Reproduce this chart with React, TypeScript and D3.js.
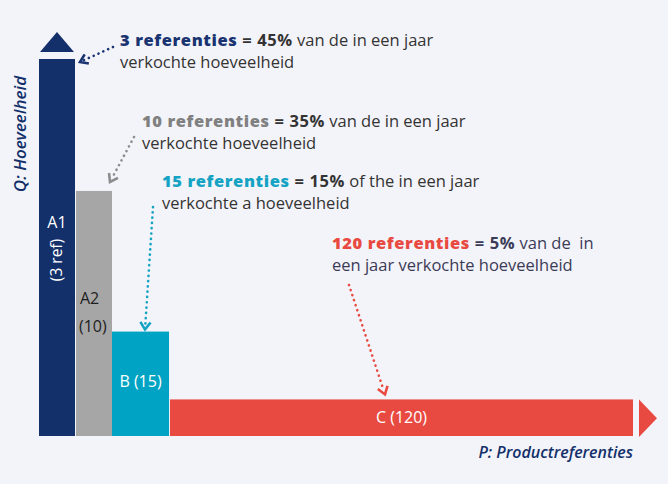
import React from "react";
import * as d3 from "d3";

const W = 668;
const H = 484;

// Data (illustrative ABC / Pareto chart)
const categories = ["A1", "A2", "B", "C"];
const refCounts = [3, 10, 15, 120];
const shares = [45, 35, 15, 5];
// bar heights in chart units (0-100) as drawn
const barHeights = [100, 65, 27.7, 9.7];
// bar spans along the x-axis in chart units (0-100) as drawn
const barStarts = [0, 6.23, 12.29, 22.05];
const barEnds = [6.06, 12.29, 21.89, 100];
const barLabels = [["A1", "(3 ref)"], ["A2", "(10)"], ["B (15)"], ["C (120)"]];
const noteLine1Rest = [" van de in een jaar", " van de in een jaar", " of the in een jaar", " van de  in"];
const noteLine2 = ["verkochte hoeveelheid", "verkochte hoeveelheid", "verkochte a hoeveelheid", "een jaar verkochte hoeveelheid"];
const yAxisLabel = "Q: Hoeveelheid";
const xAxisLabel = "P: Productreferenties";

const colors = ["#13306b", "#a6a6a6", "#00a3c3", "#e84a41"];
const noteColors = ["#1a3371", "#808080", "#15a3c4", "#e84a41"];
const textDark = ["#333333", "#333333", "#333333", "#3b3b58"];

const FONT = "'Open Sans', 'Noto Sans', sans-serif";

function DottedArrow({ x1, y1, x2, y2, color }: { x1: number; y1: number; x2: number; y2: number; color: string }) {
  const ang = Math.atan2(y2 - y1, x2 - x1);
  const len = 9;
  const spread = 0.6;
  const a1 = ang + Math.PI - spread;
  const a2 = ang + Math.PI + spread;
  const p1 = [x2 + len * Math.cos(a1), y2 + len * Math.sin(a1)];
  const p2 = [x2 + len * Math.cos(a2), y2 + len * Math.sin(a2)];
  const lx = x2 - 4 * Math.cos(ang);
  const ly = y2 - 4 * Math.sin(ang);
  return (
    <g>
      <line x1={x1} y1={y1} x2={lx} y2={ly} stroke={color} strokeWidth={2.6} strokeLinecap="round" strokeDasharray="0.1 5.2" />
      <path d={`M${p1[0]},${p1[1]}L${x2},${y2}L${p2[0]},${p2[1]}`} fill="none" stroke={color} strokeWidth={2.6} strokeLinejoin="miter" />
    </g>
  );
}

export default function App() {
  const x = d3.scaleLinear().domain([0, 100]).range([39, 633]);
  const y = d3.scaleLinear().domain([0, 100]).range([436, 59]);

  const bars = categories.map((c, i) => ({
    c,
    x0: x(barStarts[i]),
    x1: x(barEnds[i]),
    yTop: y(barHeights[i]),
    yBot: y(0),
    color: colors[i],
  }));

  const notePos = [
    { x: 120, y: 46 },
    { x: 142, y: 127 },
    { x: 162, y: 187 },
    { x: 332, y: 249 },
  ];

  const A1 = bars[0], A2 = bars[1], B = bars[2], C = bars[3];

  return (
    <svg width={W} height={H} style={{ position: "absolute", left: 0, top: 0 }} fontFamily={FONT}>
      <rect x={0} y={0} width={W} height={H} fill="#f3f4f9" />

      {bars.map((b) => (
        <rect key={b.c} x={b.x0} y={b.yTop} width={b.x1 - b.x0} height={b.yBot - b.yTop} fill={b.color} />
      ))}

      {/* axis arrows */}
      <path d={`M${A1.x0 + 1},${A1.yTop - 7}L${A1.x1 - 1},${A1.yTop - 7}L${(A1.x0 + A1.x1) / 2},${A1.yTop - 27}Z`} fill={colors[0]} />
      <path d={`M${C.x1 + 6},${C.yTop}L${C.x1 + 6},${C.yBot + 1}L${C.x1 + 24},${(C.yTop + C.yBot) / 2 + 0.5}Z`} fill={colors[3]} />

      {/* bar labels */}
      <text x={(A1.x0 + A1.x1) / 2} y={228} fill="#fff" fontSize={16} textAnchor="middle">{barLabels[0][0]}</text>
      <text transform={`translate(${(A1.x0 + A1.x1) / 2 + 5},260) rotate(-90)`} fill="#fff" fontSize={15.5} textAnchor="middle">{barLabels[0][1]}</text>
      <text x={A2.x0 + 4} y={304} fill="#1e1e1e" fontSize={16}>{barLabels[1][0]}</text>
      <text x={A2.x0 + 3} y={332} fill="#1e1e1e" fontSize={16}>{barLabels[1][1]}</text>
      <text x={(B.x0 + B.x1) / 2} y={387} fill="#fff" fontSize={16} textAnchor="middle">{barLabels[2][0]}</text>
      <text x={(C.x0 + C.x1) / 2} y={423} fill="#fff" fontSize={16} textAnchor="middle">{barLabels[3][0]}</text>

      {/* axis labels */}
      <text transform={`translate(26,134) rotate(-90)`} fill={colors[0]} fontSize={17} fontStyle="italic" fontWeight={600} textAnchor="middle">{yAxisLabel}</text>
      <text x={633} y={458} fill={colors[0]} fontSize={16} fontStyle="italic" fontWeight={600} textAnchor="end">{xAxisLabel}</text>

      {/* annotations */}
      {categories.map((c, i) => (
        <text key={c} x={notePos[i].x} y={notePos[i].y} fontSize={16.5} fill={textDark[i]} style={{ whiteSpace: "pre" }}>
          <tspan fontWeight={800} fill={noteColors[i]} letterSpacing={0.6}>{`${refCounts[i]} referenties`}</tspan>
          <tspan fontWeight={700} letterSpacing={0.6}>{` = ${shares[i]}%`}</tspan>
          <tspan>{noteLine1Rest[i]}</tspan>
          <tspan x={notePos[i].x} dy={21.5}>{noteLine2[i]}</tspan>
        </text>
      ))}

      {/* arrows */}
      <DottedArrow x1={113} y1={47} x2={80} y2={62} color={noteColors[0]} />
      <DottedArrow x1={134} y1={137} x2={110} y2={A2.yTop - 9} color="#8c8c8c" />
      <DottedArrow x1={153} y1={207} x2={145} y2={B.yTop - 2} color={noteColors[2]} />
      <DottedArrow x1={349} y1={285} x2={385} y2={C.yTop - 5} color={noteColors[3]} />
    </svg>
  );
}
